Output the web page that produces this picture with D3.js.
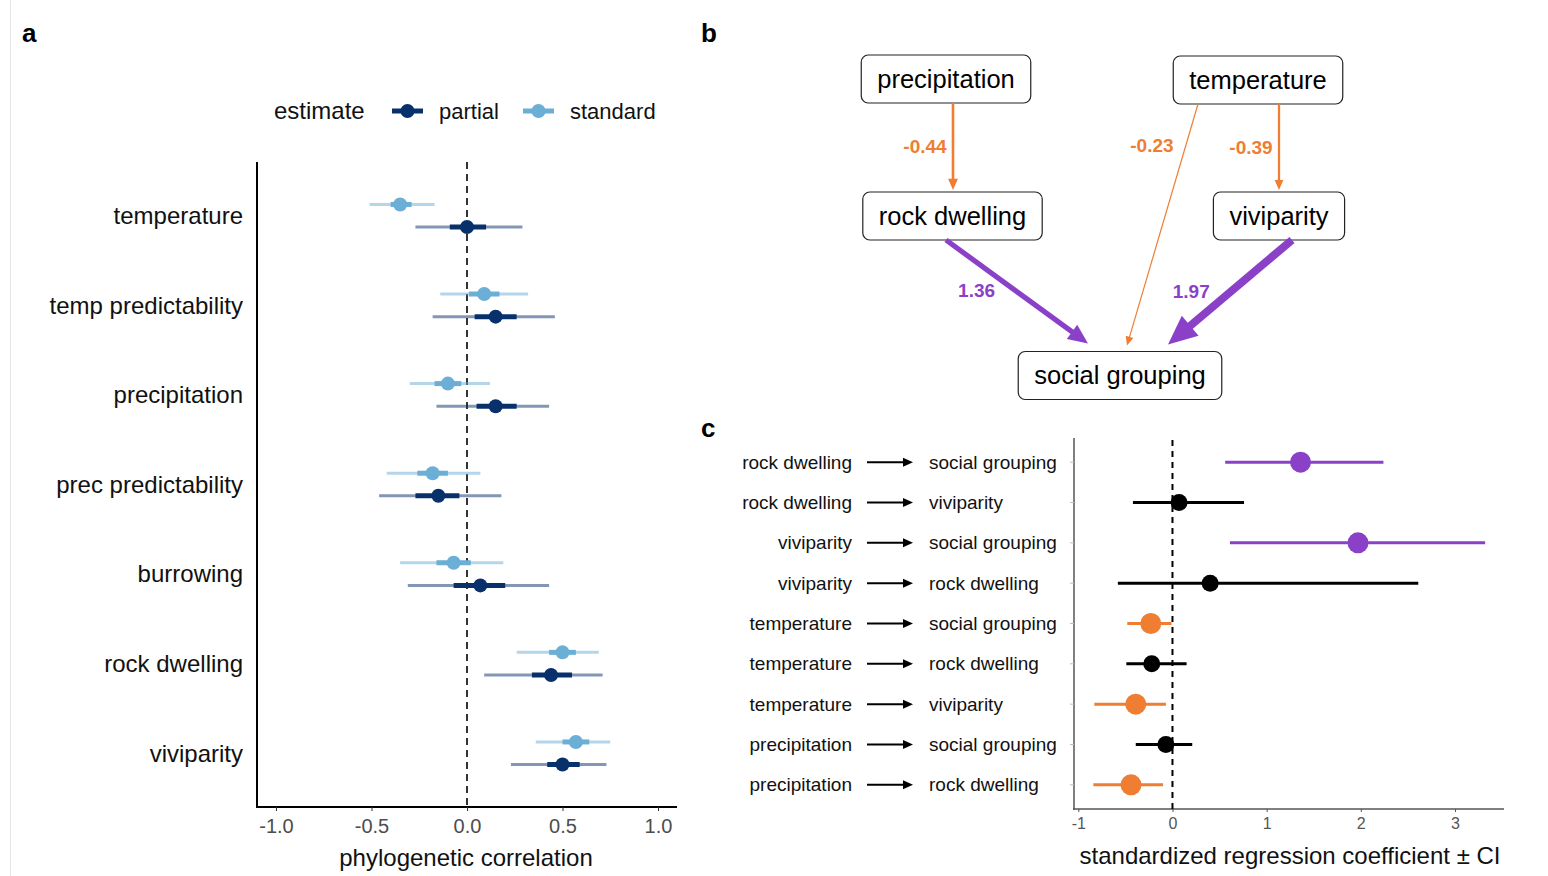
<!DOCTYPE html>
<html>
<head>
<meta charset="utf-8">
<script src="https://cdn.jsdelivr.net/npm/d3@7"></script>
<style>
  body { margin: 0; background: #fff; }
  text { font-family: "Liberation Sans", Arial, Helvetica, sans-serif; }
</style>
</head>
<body>
<svg id="fig" width="1548" height="876"></svg>
<script>
// ---- panel a data: phylogenetic correlations
const traits = ['temperature', 'temp predictability', 'precipitation', 'prec predictability', 'burrowing', 'rock dwelling', 'viviparity']
const standardEst = [-0.35, 0.09, -0.10, -0.18, -0.07, 0.50, 0.57]
const standardLo66 = [-0.40, 0.01, -0.17, -0.26, -0.16, 0.43, 0.50]
const standardHi66 = [-0.29, 0.17, -0.03, -0.10, 0.02, 0.57, 0.64]
const standardLo95 = [-0.51, -0.14, -0.30, -0.42, -0.35, 0.26, 0.36]
const standardHi95 = [-0.17, 0.32, 0.12, 0.07, 0.19, 0.69, 0.75]
const partialEst = [0.00, 0.15, 0.15, -0.15, 0.07, 0.44, 0.50]
const partialLo66 = [-0.09, 0.04, 0.05, -0.27, -0.07, 0.34, 0.42]
const partialHi66 = [0.10, 0.26, 0.26, -0.04, 0.20, 0.55, 0.59]
const partialLo95 = [-0.27, -0.18, -0.16, -0.46, -0.31, 0.09, 0.23]
const partialHi95 = [0.29, 0.46, 0.43, 0.18, 0.43, 0.71, 0.73]

// ---- panel c data: path coefficients
const pathFrom = ['rock dwelling', 'rock dwelling', 'viviparity', 'viviparity', 'temperature', 'temperature', 'temperature', 'precipitation', 'precipitation']
const pathTo = ['social grouping', 'viviparity', 'social grouping', 'rock dwelling', 'social grouping', 'rock dwelling', 'viviparity', 'social grouping', 'rock dwelling']
const pathCoef = [1.36, 0.07, 1.97, 0.40, -0.23, -0.22, -0.39, -0.07, -0.44]
const pathLo = [0.56, -0.42, 0.61, -0.58, -0.48, -0.49, -0.83, -0.39, -0.84]
const pathHi = [2.24, 0.76, 3.32, 2.61, -0.01, 0.15, -0.07, 0.21, -0.10]

const xTicksA = [-1, -0.5, 0, 0.5, 1]
const xTicksC = [-1, 0, 1, 2, 3]

const colPartial = '#08306b', colStandard = '#6baed6'
const colPos = '#8b40c8', colNeg = '#ef7d32'

const svg = d3.select('#fig')
svg.append('rect').attr('width', 1548).attr('height', 876).attr('fill', '#fff')
svg.append('line').attr('x1', 10.5).attr('x2', 10.5).attr('y1', 0).attr('y2', 876)
  .attr('stroke', '#e6e6e6')

// panel letters
svg.selectAll('.letter').data([['a', 22, 42], ['b', 701, 42], ['c', 701, 437]]).enter()
  .append('text').attr('class', 'letter')
  .attr('x', d => d[1]).attr('y', d => d[2])
  .attr('font-size', 26).attr('font-weight', 700).text(d => d[0])

// =========== panel a ===========
const xA = d3.scaleLinear([-1, 1], [276, 658])
const yA = d3.scalePoint(traits, [162, 807]).padding(0.6)
const dodge = 11.3

const gA = svg.append('g')

gA.append('line').attr('x1', xA(0)).attr('x2', xA(0)).attr('y1', 162).attr('y2', 807)
  .attr('stroke', '#333').attr('stroke-width', 2).attr('stroke-dasharray', '7,5')

const series = [
  {name: 'standard', col: colStandard, off: -dodge, est: standardEst, lo66: standardLo66, hi66: standardHi66, lo95: standardLo95, hi95: standardHi95},
  {name: 'partial', col: colPartial, off: dodge, est: partialEst, lo66: partialLo66, hi66: partialHi66, lo95: partialLo95, hi95: partialHi95}
]

series.forEach(s => {
  const g = gA.append('g')
  const rows = traits.map((t, i) => ({t, i}))
  g.selectAll('.thin').data(rows).enter().append('line')
    .attr('x1', d => xA(s.lo95[d.i])).attr('x2', d => xA(s.hi95[d.i]))
    .attr('y1', d => yA(d.t) + s.off).attr('y2', d => yA(d.t) + s.off)
    .attr('stroke', s.col).attr('stroke-opacity', 0.5).attr('stroke-width', 3)
  g.selectAll('.thick').data(rows).enter().append('line')
    .attr('x1', d => xA(s.lo66[d.i])).attr('x2', d => xA(s.hi66[d.i]))
    .attr('y1', d => yA(d.t) + s.off).attr('y2', d => yA(d.t) + s.off)
    .attr('stroke', s.col).attr('stroke-width', 5)
  g.selectAll('circle').data(rows).enter().append('circle')
    .attr('cx', d => xA(s.est[d.i])).attr('cy', d => yA(d.t) + s.off)
    .attr('r', 7).attr('fill', s.col)
})

// axes
gA.append('line').attr('x1', 257).attr('x2', 257).attr('y1', 162).attr('y2', 808)
  .attr('stroke', '#000').attr('stroke-width', 2)
gA.append('line').attr('x1', 256).attr('x2', 677).attr('y1', 807).attr('y2', 807)
  .attr('stroke', '#000').attr('stroke-width', 2)

const axA = gA.append('g').attr('transform', 'translate(0,807)')
  .call(d3.axisBottom(xA).tickValues(xTicksA).tickFormat(d => d.toFixed(1)).tickSize(4).tickPadding(8))
axA.select('.domain').remove()
axA.selectAll('line').attr('stroke', '#333')
axA.selectAll('text').attr('font-size', 20).attr('fill', '#4d4d4d')
  .attr('font-family', '"Liberation Sans", Arial, sans-serif')

gA.selectAll('.ylab').data(traits).enter().append('text')
  .attr('x', 243).attr('y', d => yA(d)).attr('dy', '0.35em')
  .attr('text-anchor', 'end').attr('font-size', 24).attr('fill', '#111').text(d => d)

gA.append('text').attr('x', 466).attr('y', 866).attr('text-anchor', 'middle')
  .attr('font-size', 24).attr('fill', '#111').text('phylogenetic correlation')

// legend
const leg = gA.append('g')
leg.append('text').attr('x', 274).attr('y', 111).attr('dy', '0.35em')
  .attr('font-size', 24).attr('fill', '#111').text('estimate')
const legItems = [
  {label: 'partial', col: colPartial, x: 392},
  {label: 'standard', col: colStandard, x: 523}
]
legItems.forEach(d => {
  leg.append('line').attr('x1', d.x).attr('x2', d.x + 31).attr('y1', 111).attr('y2', 111)
    .attr('stroke', d.col).attr('stroke-width', 5)
  leg.append('circle').attr('cx', d.x + 15.5).attr('cy', 111).attr('r', 7).attr('fill', d.col)
  leg.append('text').attr('x', d.x + 47).attr('y', 111).attr('dy', '0.35em')
    .attr('font-size', 22).attr('fill', '#111').text(d.label)
})

// =========== panel c ===========
const rowsC = pathFrom.map((f, i) => ({i, from: f, to: pathTo[i], coef: pathCoef[i], lo: pathLo[i], hi: pathHi[i]}))
const sigColor = d => d.lo > 0 ? colPos : (d.hi < 0 ? colNeg : '#000')
const isSig = d => d.lo > 0 || d.hi < 0

const xC = d3.scaleLinear([-1, 3], [1078.3, 1455])
const yC = d3.scalePoint(rowsC.map(d => d.i), [438, 809]).padding(0.6)
const gC = svg.append('g')

gC.append('line').attr('x1', 1074).attr('x2', 1074).attr('y1', 438).attr('y2', 810)
  .attr('stroke', '#555').attr('stroke-width', 1.5)
gC.append('line').attr('x1', 1073).attr('x2', 1504).attr('y1', 809).attr('y2', 809)
  .attr('stroke', '#555').attr('stroke-width', 1.5)

gC.selectAll('.ytick').data(rowsC).enter().append('line')
  .attr('x1', 1070).attr('x2', 1074).attr('y1', d => yC(d.i)).attr('y2', d => yC(d.i))
  .attr('stroke', '#bbb')

const axC = gC.append('g').attr('transform', 'translate(0,809)')
  .call(d3.axisBottom(xC).tickValues(xTicksC).tickFormat(d => String(d)).tickSize(3).tickPadding(6))
axC.select('.domain').remove()
axC.selectAll('line').attr('stroke', '#555')
axC.selectAll('text').attr('font-size', 16).attr('fill', '#555')
  .attr('font-family', '"Liberation Sans", Arial, sans-serif')

gC.append('line').attr('x1', xC(0)).attr('x2', xC(0)).attr('y1', 440).attr('y2', 809)
  .attr('stroke', '#000').attr('stroke-width', 2).attr('stroke-dasharray', '6,5')

gC.selectAll('.ci').data(rowsC).enter().append('line')
  .attr('x1', d => xC(d.lo)).attr('x2', d => xC(d.hi))
  .attr('y1', d => yC(d.i)).attr('y2', d => yC(d.i))
  .attr('stroke', sigColor).attr('stroke-width', 3)
gC.selectAll('.pt').data(rowsC).enter().append('circle')
  .attr('cx', d => xC(d.coef)).attr('cy', d => yC(d.i))
  .attr('r', d => isSig(d) ? 10.5 : 8.5).attr('fill', sigColor)

gC.selectAll('.from').data(rowsC).enter().append('text')
  .attr('x', 852).attr('y', d => yC(d.i)).attr('dy', '0.35em').attr('text-anchor', 'end')
  .attr('font-size', 19).attr('fill', '#111').text(d => d.from)
gC.selectAll('.to').data(rowsC).enter().append('text')
  .attr('x', 929).attr('y', d => yC(d.i)).attr('dy', '0.35em')
  .attr('font-size', 19).attr('fill', '#111').text(d => d.to)
gC.selectAll('.arr').data(rowsC).enter().append('line')
  .attr('x1', 867).attr('x2', 905).attr('y1', d => yC(d.i)).attr('y2', d => yC(d.i))
  .attr('stroke', '#000').attr('stroke-width', 2)
gC.selectAll('.arrh').data(rowsC).enter().append('path')
  .attr('d', d => { const y = yC(d.i); return `M913,${y}L903,${y - 4.5}L903,${y + 4.5}Z` })
  .attr('fill', '#000')

gC.append('text').attr('x', 1290).attr('y', 864).attr('text-anchor', 'middle')
  .attr('font-size', 24).attr('fill', '#111').text('standardized regression coefficient \u00b1 CI')

// =========== panel b: path diagram built from significant paths ===========
const nodePos = {
  'precipitation': [946, 79],
  'temperature': [1258, 80],
  'rock dwelling': [952.5, 216],
  'viviparity': [1279, 216],
  'social grouping': [1120, 375.5]
}
// edge layout: source x offset, target x offset, gap at tip, label t along line, label x shift
const edgeLayout = {
  'precipitation>rock dwelling': [7, 0.5, 2, 0.5, -28],
  'temperature>viviparity': [21, 0, 2, 0.5, -28],
  'temperature>social grouping': [-60, 7, 6, 0.17, -34],
  'rock dwelling>social grouping': [-6.5, -32, 8, 0.49, -39],
  'viviparity>social grouping': [13, 48, 7, 0.49, -40]
}
const boxH = 48
const gB = svg.append('g')

const nodes = Object.keys(nodePos)
const nodeG = gB.selectAll('.node').data(nodes).enter().append('g')
  .attr('transform', d => `translate(${nodePos[d][0]},${nodePos[d][1]})`)
nodeG.append('text').attr('text-anchor', 'middle').attr('dy', '0.35em')
  .attr('font-size', 25.5).attr('fill', '#000').text(d => d)
nodeG.each(function (d) {
  const w = d3.select(this).select('text').node().getComputedTextLength() + 32
  d3.select(this).insert('rect', 'text')
    .attr('x', -w / 2).attr('y', -boxH / 2).attr('width', w).attr('height', boxH)
    .attr('rx', 7).attr('fill', '#fff').attr('stroke', '#222').attr('stroke-width', 1.2)
})

const edges = rowsC.filter(isSig)
const widthScale = d3.scaleLinear([0.23, 0.44, 1.36, 1.97], [1.2, 2.6, 5.2, 8])

edges.forEach(e => {
  const L = edgeLayout[e.from + '>' + e.to]
  const s = nodePos[e.from], t = nodePos[e.to]
  const x1 = s[0] + L[0], y1 = s[1] + boxH / 2
  const x2 = t[0] + L[1], y2 = t[1] - boxH / 2 - L[2]
  const w = widthScale(Math.abs(e.coef))
  const col = e.coef > 0 ? colPos : colNeg
  const len = Math.hypot(x2 - x1, y2 - y1)
  const ux = (x2 - x1) / len, uy = (y2 - y1) / len
  const hl = Math.max(9, 3.3 * w + 2.6), hw = Math.max(4, 1.5 * w + 1)
  const bx = x2 - ux * hl, by = y2 - uy * hl
  gB.append('line').attr('x1', x1).attr('y1', y1).attr('x2', bx + ux * 1).attr('y2', by + uy * 1)
    .attr('stroke', col).attr('stroke-width', w)
  gB.append('path')
    .attr('d', `M${x2},${y2}L${bx - uy * hw},${by + ux * hw}L${bx + uy * hw},${by - ux * hw}Z`)
    .attr('fill', col)
  const lx = x1 + (x2 - x1) * L[3] + L[4], ly = y1 + (y2 - y1) * L[3]
  gB.append('text').attr('x', lx).attr('y', ly).attr('dy', '0.35em').attr('text-anchor', 'middle')
    .attr('font-size', 19).attr('font-weight', 700).attr('fill', col).text(e.coef.toFixed(2))
})
</script>
</body>
</html>
